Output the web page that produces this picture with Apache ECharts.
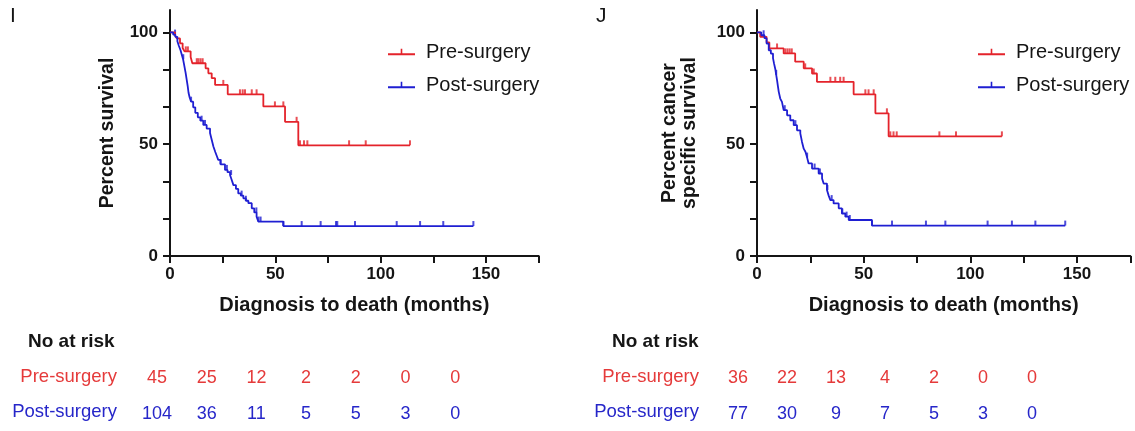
<!DOCTYPE html>
<html>
<head>
<meta charset="utf-8">
<script src="https://cdn.jsdelivr.net/npm/echarts@6/dist/echarts.min.js"></script>
<style>
html,body{margin:0;padding:0;background:#fff;}
#chart{width:1135px;height:431px;}
</style>
</head>
<body>
<div id="chart"></div>
<script>
// ---------- DATA ----------
const seriesNames = ['Pre-surgery', 'Post-surgery'];
const xTickValues = [0, 25, 50, 75, 100, 125, 150, 175];
const xLabelValues = [0, 50, 100, 150];
const yTickValues = [0, 16.67, 33.33, 50, 66.67, 83.33, 100];
const yLabelValues = [0, 50, 100];

// Panel I (overall survival): [months, percent surviving]
const preStepsI = [[0,100],[2.4,98.8],[3.2,97.3],[4.75,95.1],[6.0,93],[6.9,91.5],[9.8,89],[10.6,86.2],[16.9,83.9],[18.2,81.7],[19.8,79.5],[21.4,76.5],[27.4,72.3],[44.3,66.9],[54.6,60],[60.9,49.5],[113.9,49.5]];
const preCensorI = [7.5,8.5,12.7,13.5,14.5,15.5,25.3,33.2,34.5,35.6,38.8,41.1,49.8,53.8,60.1,61.7,63.6,65.2,85,92.9,113.9];
const postStepsI = [[0,100],[1.5,99],[2.5,98],[3.5,96],[4.2,94],[5,92],[5.6,90],[6.2,88],[6.8,85],[7.4,82],[7.9,79],[8.4,76],[8.8,73],[9.3,71],[10,69],[11,66.5],[12,64],[13.2,62],[14.4,60.5],[15.8,58.6],[17.4,57],[19,55],[19.8,52],[20.6,49],[21.5,46.5],[22.3,44.5],[22.9,43],[24,41],[26.1,38.5],[27.3,37.5],[28.5,36.2],[29.3,34],[30.1,31.7],[31.3,30],[32.4,28],[33.6,27],[34.8,25.8],[36,24.7],[37.2,23.6],[38.8,21.3],[40,19.5],[41.1,17.6],[41.9,15.4],[53.8,13.4],[144,13.4]];
const postCensorI = [2.4,6.3,10,15,16.6,24,27,29,34,36,41,42,43,53.8,62.5,71.5,78.8,79.4,87.8,107.6,118.7,129.7,144];

// Panel J (cancer specific survival)
const preStepsJ = [[0,100],[1.5,98],[4.5,95.5],[5.8,92.8],[12.5,90.6],[17.9,86.9],[21.9,83.9],[25.8,81.6],[28.1,77.9],[45.3,72.3],[55.5,63.8],[61.7,53.5],[114.8,53.5]];
const preCensorJ = [9.4,13.3,14.3,15.3,16.3,22.6,26.6,34.4,36.7,39.0,40.6,50.8,52.3,54.7,60.9,62.5,64,65.5,85.5,93.3,114.8];
const postStepsJ = [[0,100],[2,98.7],[3.5,97.4],[4.5,95],[5.5,92],[6.5,90.5],[7.5,88.5],[8,86],[8.6,83.5],[9,81],[9.4,78.6],[9.8,76],[10.2,73.4],[10.9,70.4],[11.7,68.9],[12.5,65.2],[14.1,62.9],[15.6,60.7],[17.2,58.5],[18.75,56.2],[20.3,54.8],[21.1,51],[21.9,48],[22.7,46.6],[23.5,44],[24.2,41.4],[25.8,39.1],[28.9,36.9],[30.5,34.7],[31.25,32.4],[32.8,29.5],[33.6,27],[34.4,25],[35.9,23.5],[38.3,21.3],[39.8,19],[41.4,17.6],[43,16.1],[53.9,13.6],[144.5,13.6]];
const postCensorJ = [3.1,9,13,18,23.5,27,29.5,33,35,40,42,43.5,53.9,63.3,79.2,88.3,108.1,119.5,130.5,144.5];

// Numbers at risk
const riskPreI = [45, 25, 12, 2, 2, 0, 0];
const riskPostI = [104, 36, 11, 5, 5, 3, 0];
const riskPreJ = [36, 22, 13, 4, 2, 0, 0];
const riskPostJ = [77, 30, 9, 7, 5, 3, 0];

const panelLetters = ['I', 'J'];
const xTitle = 'Diagnosis to death (months)';
const yTitleI = 'Percent survival';
const yTitleJ = 'Percent cancer\nspecific survival';
const riskTitle = 'No at risk';

// ---------- STYLE / LAYOUT ----------
const RED = '#e4232b';
const BLUE = '#1f1fd2';
const RED_T = '#e53a3a';
const BLUE_T = '#2626c9';
const INK = '#151515';
const FONT = '"Liberation Sans", Arial, Helvetica, sans-serif';

function survAt(steps, t) {
  let s = steps[0][1];
  for (const p of steps) { if (p[0] <= t + 1e-9) s = p[1]; else break; }
  return s;
}

function xAxisCfg(gi) {
  return {
    gridIndex: gi, type: 'value', min: 0, max: 175, interval: 25,
    axisLine: { show: true, onZero: false, lineStyle: { color: INK, width: 2 } },
    axisTick: { show: true, length: 7, customValues: xTickValues, lineStyle: { color: INK, width: 2 } },
    axisLabel: { customValues: xLabelValues, fontSize: 17, fontWeight: 'bold', color: INK, fontFamily: FONT, margin: 10 },
    splitLine: { show: false },
    name: xTitle, nameLocation: 'middle', nameGap: 39,
    nameTextStyle: { fontSize: 20, fontWeight: 'bold', color: INK, fontFamily: FONT }
  };
}
function yAxisCfg(gi, title, gap) {
  return {
    gridIndex: gi, type: 'value', min: 0, max: 110, interval: 50,
    axisLine: { show: true, onZero: false, lineStyle: { color: INK, width: 2 } },
    axisTick: { show: true, length: 7, customValues: yTickValues, lineStyle: { color: INK, width: 2 } },
    axisLabel: { customValues: yLabelValues, fontSize: 17, fontWeight: 'bold', color: INK, fontFamily: FONT, margin: 12 },
    splitLine: { show: false },
    name: title, nameLocation: 'middle', nameGap: gap,
    nameTextStyle: { fontSize: 19.5, fontWeight: 'bold', color: INK, fontFamily: FONT, lineHeight: 20 }
  };
}
function lineSeries(name, gi, steps, color) {
  return {
    type: 'line', name: name, xAxisIndex: gi, yAxisIndex: gi, step: 'end',
    data: steps, symbol: 'none', showSymbol: false, silent: true,
    lineStyle: { color: color, width: 1.8 }, itemStyle: { color: color }
  };
}
function censorSeries(name, gi, steps, times, color) {
  return {
    type: 'scatter', name: name + ' censored', xAxisIndex: gi, yAxisIndex: gi,
    data: times.map(t => [t, survAt(steps, t)]),
    symbol: 'rect', symbolSize: [2, 5], symbolOffset: [0, -2.5], silent: true,
    itemStyle: { color: color }
  };
}
const legendIcon = 'path://M0,5 H27 V7 H0 Z M12.7,0.5 H14.3 V5 H12.7 Z';
function legendCfg(left) {
  return {
    left: left, top: 36, orient: 'vertical', data: seriesNames,
    icon: legendIcon, itemWidth: 27, itemHeight: 7, itemGap: 11,
    selectedMode: false,
    textStyle: { fontSize: 20, color: INK, fontFamily: FONT, lineHeight: 22, padding: [0, 0, 0, 6] }
  };
}

const graphics = [];
function txt(x, y, text, color, size, weight, align) {
  graphics.push({ type: 'text', x: x, y: y, silent: true,
    style: { text: String(text), fill: color, font: (weight || 'normal') + ' ' + size + 'px ' + FONT,
      align: align || 'center', verticalAlign: 'middle' } });
}
txt(10, 16, panelLetters[0], INK, 21, 'normal', 'left');
txt(596, 16, panelLetters[1], INK, 21, 'normal', 'left');

function riskTable(labelRight, titleLeft, x0, dx, pre, post) {
  txt(titleLeft, 342, riskTitle, INK, 19, 'bold', 'left');
  txt(labelRight, 377, seriesNames[0], RED_T, 18.5, 'normal', 'right');
  txt(labelRight, 412, seriesNames[1], BLUE_T, 18.5, 'normal', 'right');
  pre.forEach((v, i) => txt(x0 + i * dx, 378, v, RED_T, 18, 'normal', 'center'));
  post.forEach((v, i) => txt(x0 + i * dx, 414, v, BLUE_T, 18, 'normal', 'center'));
}
riskTable(117, 28, 157, 49.7, riskPreI, riskPostI);
riskTable(699, 612, 738, 49, riskPreJ, riskPostJ);

const option = {
  backgroundColor: '#fff',
  animation: false,
  grid: [
    { left: 170, top: 10, width: 368.7, height: 246 },
    { left: 757, top: 10, width: 373.3, height: 246 }
  ],
  xAxis: [xAxisCfg(0), xAxisCfg(1)],
  yAxis: [yAxisCfg(0, yTitleI, 52), yAxisCfg(1, yTitleJ, 57)],
  legend: [legendCfg(383), legendCfg(973)],
  series: [
    lineSeries(seriesNames[0], 0, preStepsI, RED),
    lineSeries(seriesNames[1], 0, postStepsI, BLUE),
    censorSeries(seriesNames[0], 0, preStepsI, preCensorI, RED),
    censorSeries(seriesNames[1], 0, postStepsI, postCensorI, BLUE),
    lineSeries(seriesNames[0], 1, preStepsJ, RED),
    lineSeries(seriesNames[1], 1, postStepsJ, BLUE),
    censorSeries(seriesNames[0], 1, preStepsJ, preCensorJ, RED),
    censorSeries(seriesNames[1], 1, postStepsJ, postCensorJ, BLUE)
  ],
  graphic: graphics
};
const chart = echarts.init(document.getElementById('chart'), null, { renderer: 'canvas' });
chart.setOption(option);
</script>
</body>
</html>
